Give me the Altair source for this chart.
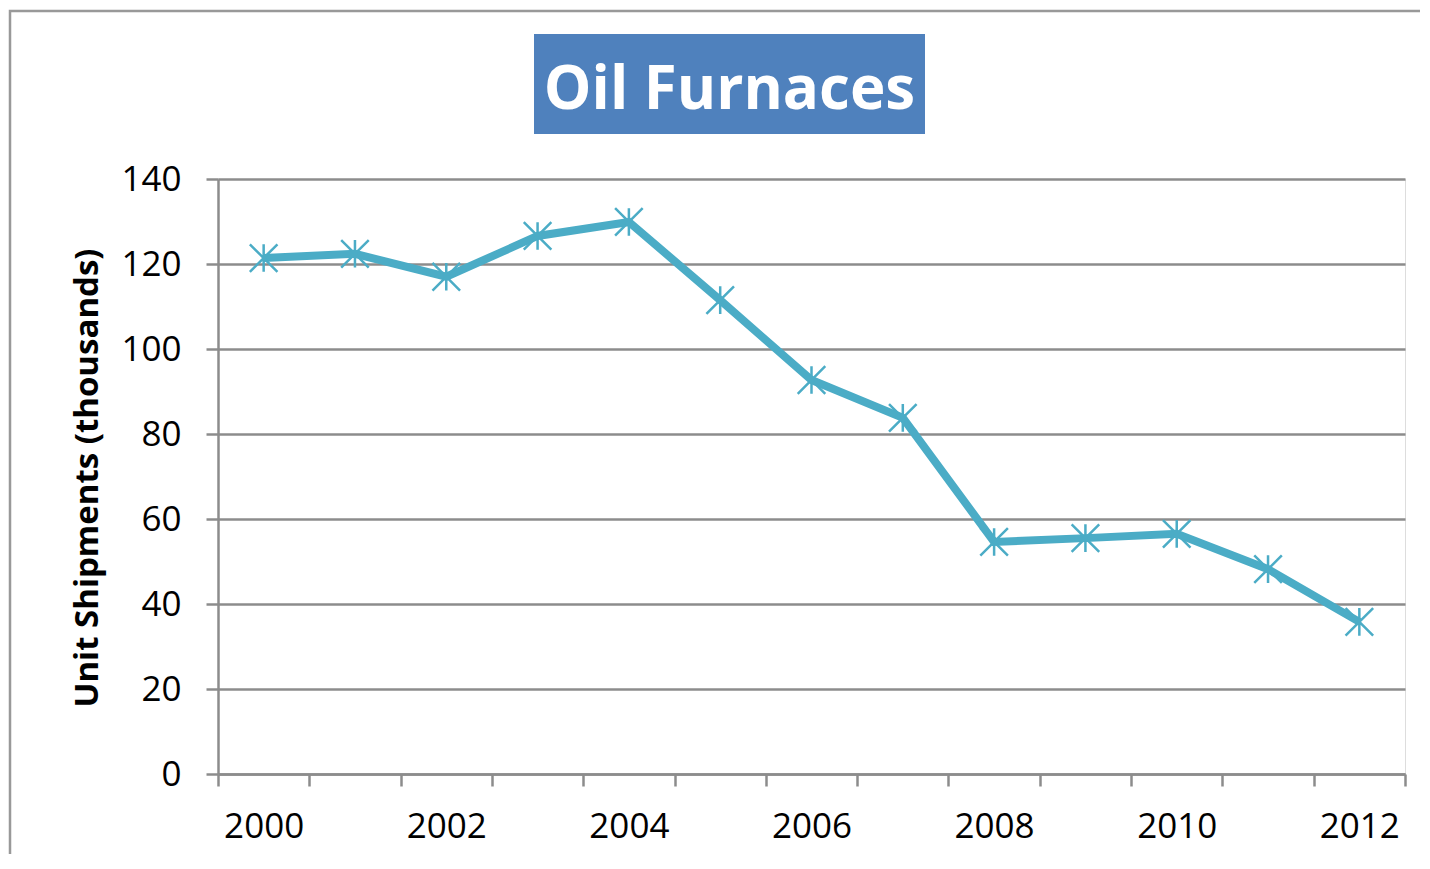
import altair as alt
import pandas as pd

years = [2000, 2001, 2002, 2003, 2004, 2005, 2006, 2007, 2008, 2009, 2010, 2011, 2012]
shipments = [121.4, 122.4, 117.0, 126.6, 129.9, 111.5, 92.7, 83.8, 54.6, 55.5, 56.5, 48.2, 35.8]
y_ticks = [0, 20, 40, 60, 80, 100, 120, 140]
x_ticks = [1999.5 + i for i in range(14)]
title_text = "Oil Furnaces"
y_title = "Unit Shipments (thousands)"

df = pd.DataFrame({"year": years, "value": shipments})
one = pd.DataFrame({"t": [0]})

W, H = 1187, 595
LINE = "#4BACC6"
GRID = "#8C8C8C"
FONT = "Open Sans"

x_enc = alt.X(
    "year:Q",
    scale=alt.Scale(domain=[1999.5, 2012.5], nice=False, zero=False),
    axis=alt.Axis(
        values=x_ticks,
        labelExpr="(datum.value + 0.5) % 2 == 0 && datum.value < 2012 ? toString(datum.value + 0.5) : ''",
        labelOffset=W / 13 / 2,
        labelFont=FONT, labelFontSize=35, labelColor="#000000",
        labelPadding=23, labelFlush=False, labelOverlap=False,
        tickSize=12, tickWidth=2.5, tickColor=GRID,
        domainColor=GRID, domainWidth=2.5,
        grid=False, title=None,
    ),
)
y_enc = alt.Y(
    "value:Q",
    scale=alt.Scale(domain=[0, 140], nice=False),
    axis=alt.Axis(
        values=y_ticks,
        labelFont=FONT, labelFontSize=35, labelColor="#000000",
        labelPadding=25,
        tickSize=12, tickWidth=2.5, tickColor=GRID,
        domainColor=GRID, domainWidth=2.5,
        grid=True, gridColor=GRID, gridWidth=2.5,
        title=y_title, titleFont=FONT, titleFontSize=33, titleFontWeight="bold",
        titleColor="#000000", titleAngle=270, titleX=-131, titleY=H / 2 + 1,
        titleAlign="center", titleBaseline="middle",
    ),
)

border = alt.Chart(one).mark_rect(
    fill=None, stroke="#999999", strokeWidth=2.5, clip=False
).encode(
    x=alt.value(-208), x2=alt.value(W + 300),
    y=alt.value(-168), y2=alt.value(H + 300),
)

title_box = alt.Chart(one).mark_rect(color="#4F81BD").encode(
    x=alt.value(316), x2=alt.value(707), y=alt.value(-145), y2=alt.value(-45)
)
title = alt.Chart(one).mark_text(
    text=title_text, font=FONT, fontSize=60, fontWeight="bold", color="white",
    align="center", baseline="middle",
).encode(x=alt.value(511.5), y=alt.value(-88))

line = alt.Chart(df).mark_line(color=LINE, strokeWidth=8).encode(x=x_enc, y=y_enc)
points = alt.Chart(df).mark_point(
    shape="M-1,-1L1,1M-1,1L1,-1M0,-1L0,1", filled=False,
    color=LINE, strokeWidth=2.5, size=760, opacity=1,
).encode(x="year:Q", y="value:Q")

chart = alt.layer(border, line, points, title_box, title).properties(
    width=W, height=H,
    autosize=alt.AutoSizeParams(type="none"),
    padding={"left": 210, "top": 171, "right": 15, "bottom": 80},
).configure_view(stroke=None).configure(background="white")

chart.save("out.html", embed_options={"renderer": "svg", "actions": False})
